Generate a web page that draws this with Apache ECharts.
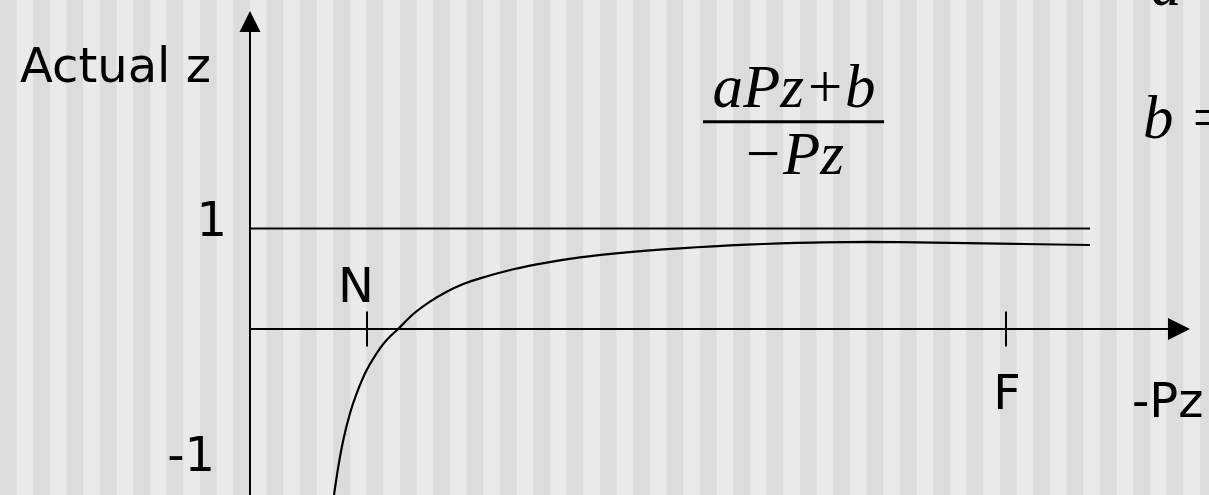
<!DOCTYPE html>
<html><head><meta charset="utf-8">
<script src="https://cdn.jsdelivr.net/npm/echarts@6/dist/echarts.min.js"></script>
<style>html,body{margin:0;padding:0;background:#e4e4e4}#c{width:1209px;height:495px}</style>
</head><body><div id="c"></div>
<script>
// Curve: actual z versus -Pz
const curveX = [0.840, 0.883, 0.933, 1.000, 1.067, 1.167, 1.300, 1.383, 1.483, 1.633, 1.800, 1.967, 2.133, 2.300, 2.633, 2.967, 3.300, 3.633, 3.967, 4.300, 4.633, 4.967, 5.300, 5.633, 6.167, 6.833, 7.500, 8.400];
const curveY = [-1.652, -1.370, -1.104, -0.839, -0.640, -0.408, -0.192, -0.093, 0.002, 0.149, 0.272, 0.371, 0.448, 0.504, 0.594, 0.660, 0.712, 0.750, 0.780, 0.803, 0.823, 0.839, 0.852, 0.860, 0.866, 0.860, 0.849, 0.836];
// Horizontal limit line z = 1
const limitX = [0, 8.40];
const limitY = [1, 1];
// Marked positions on the -Pz axis
const tickNames = ['N', 'F'];
const tickX = [1.17, 7.56];
// Texts
const yAxisName = 'Actual z';
const xAxisName = '-Pz';
const yTickLabels = ['1', '-1'];
const formulaTop = 'aPz+b';
const formulaBottom = '\u2212Pz';
const sideTexts = ['a =', 'b ='];
// Background stripes count across the page
const stripeCount = 72.54;

const SANS = '"DejaVu Sans", sans-serif';
const SERIF = '"Liberation Serif", "DejaVu Serif", serif';
const chart = echarts.init(document.getElementById('c'), null, {renderer: 'canvas'});

const curveData = curveX.map((x, i) => [x, curveY[i]]);
const limitData = limitX.map((x, i) => [x, limitY[i]]);
const tickData = tickX.map((x, i) => ({
  value: [x, 0],
  name: tickNames[i],
  label: i === 0
    ? {position: 'top', distance: -2, offset: [-11, 0]}
    : {position: 'bottom', distance: 26, offset: [1, 0]}
}));

const sansText = (text, x, y, align) => ({
  type: 'text', x, y, z: 100, silent: true,
  style: {text, fill: '#000', font: '48px ' + SANS, align, verticalAlign: 'middle'}
});
const serifText = (text, x, y, align) => ({
  type: 'text', x, y, z: 100, silent: true,
  style: {text, fill: '#000', font: 'italic 61px ' + SERIF, align, verticalAlign: 'middle'}
});

chart.setOption({
  animation: false,
  backgroundColor: 'transparent',
  grid: [
    {left: 0, right: 0, top: 0, bottom: 0},
    {left: 250, right: 30, top: 21.5, bottom: 0}
  ],
  xAxis: [
    {gridIndex: 0, type: 'value', min: 0, max: stripeCount, interval: 1, z: -1,
     axisLine: {show: false}, axisTick: {show: false}, axisLabel: {show: false},
     splitLine: {show: false},
     splitArea: {show: true, areaStyle: {color: ['#dcdcdc', '#eaeaea']}}},
    {gridIndex: 1, type: 'value', min: 0, max: 9.29,
     axisLine: {show: true, onZero: true, symbol: ['none', 'triangle'], symbolSize: [22, 22],
                lineStyle: {color: '#000', width: 2}},
     axisTick: {show: false}, axisLabel: {show: false}, splitLine: {show: false}}
  ],
  yAxis: [
    {gridIndex: 0, type: 'value', min: 0, max: 1, show: false, splitLine: {show: false}},
    {gridIndex: 1, type: 'value', min: -1.652, max: 3.06,
     axisLine: {show: true, onZero: true, symbol: ['none', 'triangle'], symbolSize: [21, 21],
                lineStyle: {color: '#000', width: 2}},
     axisTick: {show: false}, axisLabel: {show: false}, splitLine: {show: false}}
  ],
  series: [
    {type: 'line', name: 'limit', xAxisIndex: 1, yAxisIndex: 1, data: limitData,
     symbol: 'none', silent: true, lineStyle: {color: '#000', width: 2}},
    {type: 'line', name: 'curve', xAxisIndex: 1, yAxisIndex: 1, data: curveData,
     symbol: 'none', silent: true, smooth: 0.3,
     lineStyle: {color: '#000', width: 2.2}},
    {type: 'scatter', name: 'ticks', xAxisIndex: 1, yAxisIndex: 1, data: tickData,
     symbol: 'rect', symbolSize: [2, 35], silent: true,
     itemStyle: {color: '#000', opacity: 1},
     label: {show: true, formatter: p => p.name, color: '#000', fontSize: 48, fontFamily: SANS}}
  ],
  graphic: [
    sansText(yAxisName, 20, 69.5, 'left'),
    sansText(yTickLabels[0], 227, 223.5, 'right'),
    sansText(yTickLabels[1], 215, 459, 'right'),
    sansText(xAxisName, 1132, 405, 'left'),
    serifText(formulaTop, 794, 91, 'center'),
    serifText(formulaBottom, 793, 158, 'center'),
    {type: 'rect', z: 100, silent: true, shape: {x: 703, y: 120.2, width: 181, height: 3}, style: {fill: '#000'}},
    serifText(sideTexts[0], 1151, -11, 'left'),
    serifText(sideTexts[1], 1143, 122, 'left')
  ]
});
</script>
</body></html>
